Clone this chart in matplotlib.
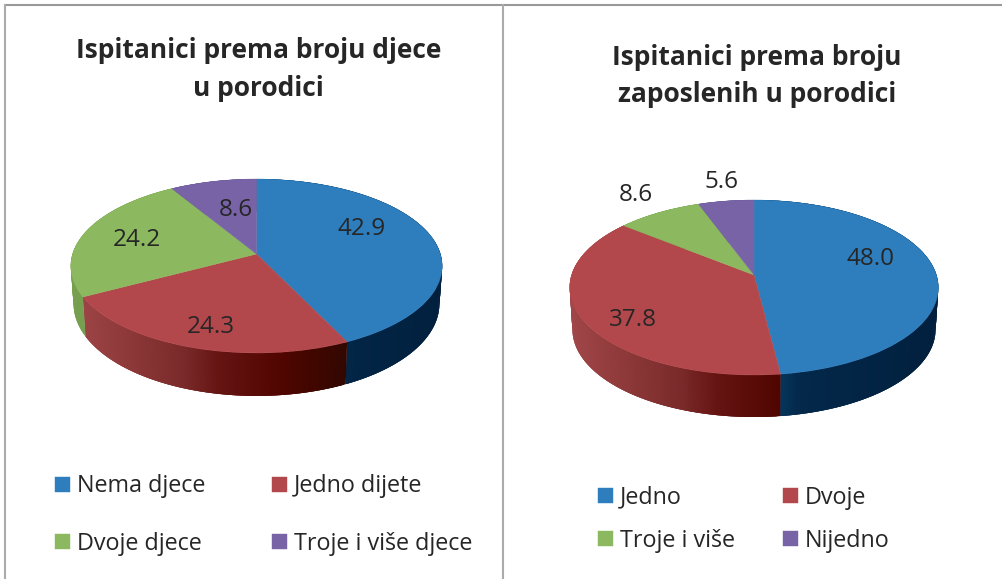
import numpy as np
import matplotlib
matplotlib.use("Agg")
import matplotlib.pyplot as plt
from matplotlib.transforms import Transform
from matplotlib.collections import PolyCollection
from matplotlib.colors import to_rgb

plt.rcParams['font.family'] = ['Open Sans', 'DejaVu Sans']

# ---- data ----
title_left = "Ispitanici prema broju djece\nu porodici"
labels_left = ["Nema djece", "Jedno dijete", "Dvoje djece", "Troje i više djece"]
values_left = [42.9, 24.3, 24.2, 8.6]
title_right = "Ispitanici prema broju\nzaposlenih u porodici"
labels_right = ["Jedno", "Dvoje", "Troje i više", "Nijedno"]
values_right = [48.0, 37.8, 8.6, 5.6]

# ---- style ----
colors = ["#2E7EBD", "#B3484C", "#8CB85F", "#7763A5"]
side_stops = [
    [(0.55, "#063a62"), (0.63, "#03284a"), (1.0, "#02203e")],
    [(0.0, "#a04648"), (0.3, "#7a2a2a"), (0.4, "#651412"), (0.57, "#500500"), (0.75, "#300800"), (1.0, "#300800")],
    [(0.0, "#76a050"), (1.0, "#76a050")],
    [(0.0, "#5f4f88"), (1.0, "#5f4f88")],
]
TEXT = "#262626"
LINE_TOP = "#999999"
LINE_V = "#ababab"


class Perspective(Transform):
    """Tilted disc: unit circle to pixel positions, far side foreshortened."""
    input_dims = output_dims = 2
    is_separable = False

    def __init__(self, cx, cy, rx, ry, k, drop=0.0, sx=1.0, sy=1.0):
        super().__init__()
        self.p = (cx, cy, rx, ry, k, drop, sx, sy)

    def transform_non_affine(self, xy):
        cx, cy, rx, ry, k, drop, sx, sy = self.p
        xy = np.asarray(xy, float)
        w = 1 + k * xy[:, 1]
        return np.column_stack((cx + sx * rx * xy[:, 0] / w,
                                cy + drop - sy * ry * xy[:, 1] / w))


def side_colour(stops, f):
    xs = [s[0] for s in stops]
    cs = np.array([to_rgb(s[1]) for s in stops])
    return [np.interp(f, xs, cs[:, i]) for i in range(3)]


def tilted_pie(ax, values, cx, cy, rx, ry, k, drop, sx, sy):
    top = Perspective(cx, cy, rx, ry, k)
    bottom = Perspective(cx, cy, rx, ry, k, drop=drop, sx=sx, sy=sy)
    edges = np.cumsum([0] + list(values)) / sum(values) * 360.0
    for i in range(len(values)):
        n = max(3, int((edges[i + 1] - edges[i]) * 2) + 1)
        a = np.radians(np.linspace(edges[i], edges[i + 1], n))
        circ = np.column_stack((np.sin(a), np.cos(a)))
        t, b = top.transform(circ), bottom.transform(circ)
        quads, fc = [], []
        for j in range(n - 1):
            e = min(j + 3, n - 1)   # overlap the next strips so no seams show
            quads.append(np.vstack((t[j:e + 1], b[j:e + 1][::-1])))
            f = (0.5 * (t[j, 0] + t[j + 1, 0]) - (cx - rx)) / (2 * rx)
            fc.append(side_colour(side_stops[i], f))
        ax.add_collection(PolyCollection(quads, facecolors=fc,
                                         edgecolors="none", linewidths=0, zorder=1))
    wedges, _ = ax.pie(values, colors=colors, startangle=90, counterclock=False,
                       wedgeprops=dict(linewidth=0.3))
    for w in wedges:
        w.set_edgecolor(w.get_facecolor())
        w.set_transform(top + ax.transData)
        w.set_zorder(2)
    return wedges


fig = plt.figure(figsize=(10.02, 5.79), dpi=100, facecolor="white")
ax = fig.add_axes([0, 0, 1, 1])

w_left = tilted_pie(ax, values_left, 256.5, 254.0, 183.9, 85.3, 0.138, 37, 0.985, 1.06)
w_right = tilted_pie(ax, values_right, 754.0, 275.0, 182.4, 85.7, 0.143, 42, 0.985, 1.0)

ax.set_aspect('auto')
ax.set_xlim(0, 1002)
ax.set_ylim(579, 0)
ax.set_axis_off()

# frame lines
ax.plot([5, 1002], [5, 5], color=LINE_TOP, lw=1.5, zorder=3, clip_on=False)
ax.plot([5.5, 5.5], [5, 579], color=LINE_V, lw=1.5, zorder=3)
ax.plot([503.5, 503.5], [5, 579], color=LINE_V, lw=1.5, zorder=3)

# titles
ax.text(258.5, 69.5, title_left, ha="center", va="center", fontsize=19.0, fontweight="bold",
        color=TEXT, linespacing=1.5, zorder=4)
ax.text(757, 76, title_right, ha="center", va="center", fontsize=19.0, fontweight="bold",
        color=TEXT, linespacing=1.5, zorder=4)

# data labels
pos_left = [(362, 229), (211, 327), (137, 240), (236, 210)]
pos_right = [(871, 259), (633, 320), (636, 195), (722, 182)]
for vals, pos in ((values_left, pos_left), (values_right, pos_right)):
    for v, (x, y) in zip(vals, pos):
        ax.text(x, y, f"{v:.1f}", ha="center", va="center", fontsize=17.5, color=TEXT, zorder=4)

# legends, filled row by row as in the reference
row_order = [0, 2, 1, 3]
common = dict(ncol=2, frameon=False, fontsize=16.8, labelcolor=TEXT, handlelength=0.65,
              handleheight=0.65, handletextpad=0.3, borderpad=0, borderaxespad=0,
              bbox_transform=ax.transData, loc="upper left")
leg1 = ax.legend([w_left[i] for i in row_order], [labels_left[i] for i in row_order],
                 bbox_to_anchor=(55, 474.5), labelspacing=1.42, columnspacing=2.85, **common)
ax.add_artist(leg1)
ax.legend([w_right[i] for i in row_order], [labels_right[i] for i in row_order],
          bbox_to_anchor=(598, 485.5), labelspacing=0.82, columnspacing=2.03, **common)

fig.savefig("out.png", dpi=100, facecolor="white")
